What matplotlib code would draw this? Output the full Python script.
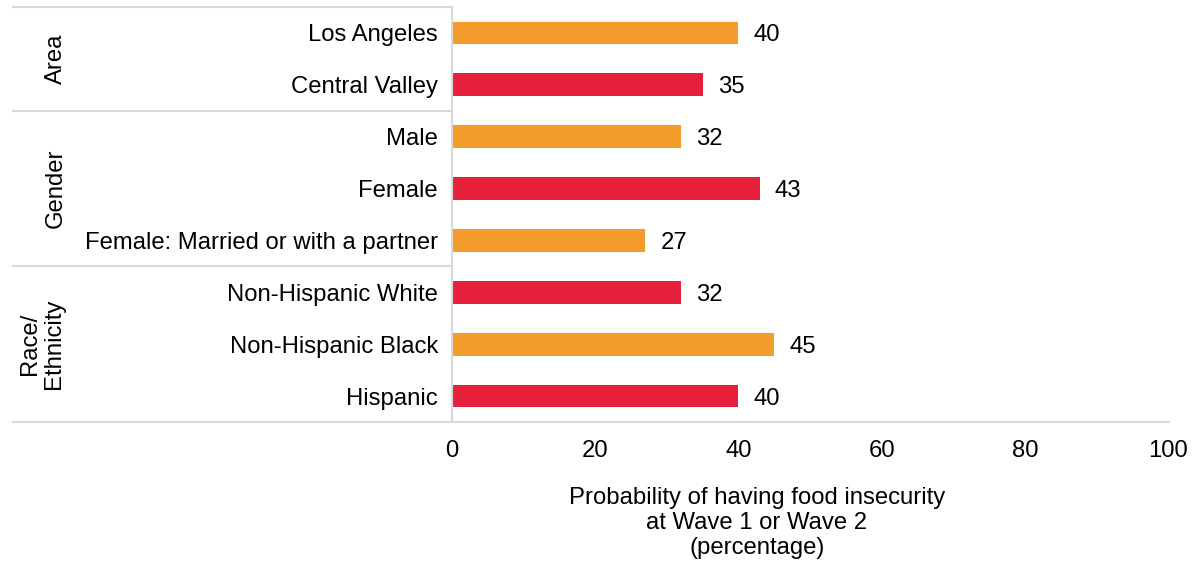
import matplotlib.pyplot as plt
import matplotlib.transforms as mtransforms
from matplotlib.lines import Line2D

plt.rcParams["font.family"] = ["Liberation Sans", "DejaVu Sans"]

# Food insecurity by subgroup
categories = [
    "Los Angeles",
    "Central Valley",
    "Male",
    "Female",
    "Female: Married or with a partner",
    "Non-Hispanic White",
    "Non-Hispanic Black",
    "Hispanic",
]
values = [40, 35, 32, 43, 27, 32, 45, 40]
groups = ["Area", "Gender", "Race/\nEthnicity"]
group_sizes = [2, 3, 3]
x_ticks = [0, 20, 40, 60, 80, 100]

orange = "#F39C2B"
red = "#E61F3A"
grid_gray = "#d9d9d9"
fs = 17.2

W, H = 1199, 566
fig = plt.figure(figsize=(W / 100, H / 100), dpi=100)
ax = fig.add_axes([452 / W, 1 - 422 / H, (1168 - 452) / W, (422 - 7) / H])

ypos = list(range(len(categories)))
colors = [orange if i % 2 == 0 else red for i in ypos]
ax.barh(ypos, values, height=0.44, color=colors)
for y, v in zip(ypos, values):
    ax.text(v + 2.1, y, str(v), va="center_baseline", ha="left", fontsize=fs)

ax.set_ylim(len(categories) - 0.5, -0.5)
ax.set_xlim(0, 100)
ax.set_yticks(ypos)
ax.set_yticklabels(categories, fontsize=fs)
ax.set_xticks(x_ticks)
ax.set_xticklabels([str(t) for t in x_ticks], fontsize=fs)
ax.tick_params(axis="y", length=0, pad=10)
ax.tick_params(axis="x", length=0, pad=13)

for s in ["top", "right", "bottom"]:
    ax.spines[s].set_visible(False)
ax.spines["left"].set_color(grid_gray)
ax.spines["left"].set_linewidth(1.5)

# group boxes on the left, lines in figure-x / data-y
trans = mtransforms.blended_transform_factory(fig.transFigure, ax.transData)
bounds = [-0.5]
for n in group_sizes:
    bounds.append(bounds[-1] + n)
for b in bounds[:-1]:
    fig.add_artist(Line2D([13 / W, 452 / W], [b, b], transform=trans,
                          color=grid_gray, linewidth=1.5))
fig.add_artist(Line2D([13 / W, 1169 / W], [bounds[-1], bounds[-1]], transform=trans,
                      color=grid_gray, linewidth=1.5))

for i, g in enumerate(groups):
    mid = (bounds[i] + bounds[i + 1]) / 2
    gx = 42 / W if "\n" in g else 56 / W
    ax.text(gx, mid, g, transform=trans, rotation=90, ha="center", va="center",
            fontsize=fs, linespacing=1.15)

ax.set_xlabel("Probability of having food insecurity\nat Wave 1 or Wave 2\n(percentage)",
              fontsize=fs, linespacing=1.17)
ax.xaxis.set_label_coords((757 - 452) / (1168 - 452), -(487 - 422) / (422 - 7))
ax.xaxis.label.set_va("top")

fig.savefig("out.png", dpi=100)
